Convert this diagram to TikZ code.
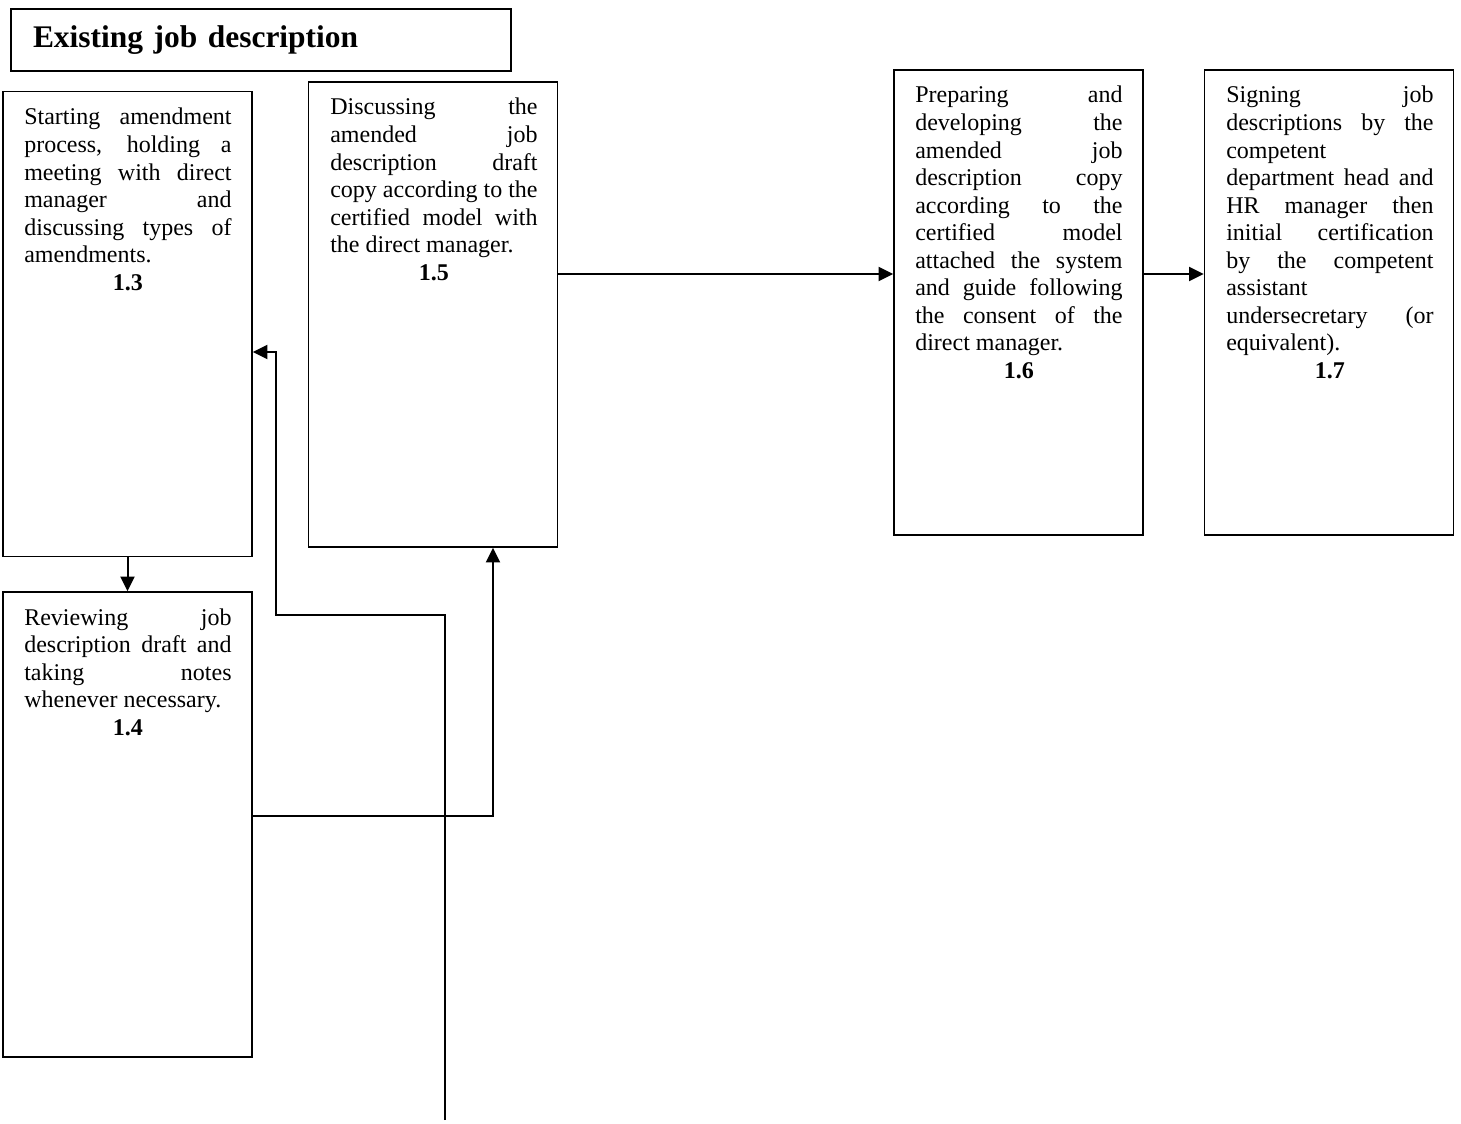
\documentclass[tikz,border=0pt]{standalone}
\usepackage{fontspec}
\setmainfont{Liberation Serif}
\usetikzlibrary{arrows.meta}
\hbadness=10000
\hyphenpenalty=10000

\tikzset{
  stepbox/.style={draw, line width=1.1pt, minimum width=186.75pt, minimum height=348.75pt, inner sep=0pt},
  steptext/.style={anchor=base west, inner sep=0pt, text width=155.5pt, align=justify, font=\fontsize{18}{20.65}\selectfont},
  flow/.style={line width=1.5pt, -{Triangle[length=11pt,width=10.5pt]}},
}
\newcommand{\stepno}[1]{\par{\centering\textbf{#1}\par}}

\begin{document}
\begin{tikzpicture}[x=0.75pt,y=0.75pt,yscale=-1,xscale=1]
\useasboundingbox (0,0) rectangle (1461,1124);

% Title
\node [draw, line width=1.1pt, minimum width=375pt, minimum height=46.5pt, inner xsep=16.5pt, text width=342pt, align=left, font=\fontsize{23.6}{28}\selectfont\bfseries] (title) at (261,40) {Existing job description};

% Boxes
\node [stepbox] (b13) at (127.5,324) {};
\node [stepbox] (b14) at (127.5,824.5) {};
\node [stepbox] (b15) at (433,314.5) {};
\node [stepbox] (b16) at (1018.5,302.5) {};
\node [stepbox] (b17) at (1329,302.5) {};

% Texts
\node [steptext] (t13) at (24,125) {Starting amendment\linebreak process, holding a\linebreak meeting with direct\linebreak manager and\linebreak discussing types of\linebreak amendments.\stepno{1.3}};
\node [steptext] (t14) at (24,625) {Reviewing job\linebreak description draft and\linebreak taking notes\linebreak whenever necessary.\stepno{1.4}};
\node [steptext] (t15) at (330,115) {Discussing the\linebreak amended job\linebreak description draft\linebreak copy according to the\linebreak certified model with\linebreak the direct manager.\stepno{1.5}};
\node [steptext] (t16) at (915,103) {Preparing and\linebreak developing the\linebreak amended job\linebreak description copy\linebreak according to the\linebreak certified model\linebreak attached the system\linebreak and guide following\linebreak the consent of the\linebreak direct manager.\stepno{1.6}};
\node [steptext] (t17) at (1226,103) {Signing job\linebreak descriptions by the\linebreak competent\newline department head and\linebreak HR manager then\linebreak initial certification\linebreak by the competent\linebreak assistant\newline undersecretary (or\linebreak equivalent).\stepno{1.7}};

% Connectors
\coordinate (r1) at (0,274);
\coordinate (r2) at (493,816);
\coordinate (r3) at (0,352);
\coordinate (src) at (445,1120);
\coordinate (bend) at (276,615);

\draw [flow] (b13.south) -- (b14.north);
\draw [flow] (b15.east |- r1) -- (b16.west |- r1);
\draw [flow] (b16.east |- r1) -- (b17.west |- r1);
\draw [flow] (b14.east |- r2) -| (b15.south -| r2);
\draw [flow] (src) |- (bend) |- (b13.east |- r3);

\end{tikzpicture}
\end{document}
